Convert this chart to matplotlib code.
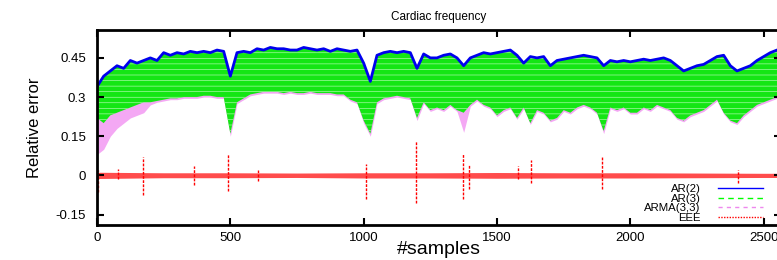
import matplotlib
matplotlib.use('Agg')
import matplotlib.pyplot as plt
from matplotlib.lines import Line2D

plt.rcParams['font.family'] = ['Liberation Sans', 'DejaVu Sans']
plt.rcParams['hatch.linewidth'] = 0.4
plt.rcParams['hatch.color'] = '#c8ffc8'

# posiciones de muestra (cada 25 muestras)
samples = list(range(0, 2551, 25))

# envolvente superior (AR(2), azul)
ar2_top = [
    0.34, 0.38, 0.40, 0.42, 0.41, 0.44, 0.43, 0.44, 0.45, 0.44,
    0.47, 0.46, 0.47, 0.465, 0.475, 0.47, 0.475, 0.47, 0.48, 0.475,
    0.38, 0.47, 0.475, 0.47, 0.485, 0.48, 0.49, 0.485, 0.485, 0.48,
    0.48, 0.49, 0.485, 0.48, 0.485, 0.475, 0.485, 0.48, 0.475, 0.48,
    0.43, 0.36, 0.46, 0.47, 0.475, 0.47, 0.475, 0.47, 0.41, 0.465,
    0.45, 0.45, 0.46, 0.465, 0.45, 0.42, 0.45, 0.46, 0.47, 0.465,
    0.47, 0.475, 0.48, 0.46, 0.43, 0.455, 0.45, 0.455, 0.42, 0.44,
    0.445, 0.45, 0.455, 0.46, 0.455, 0.45, 0.42, 0.44, 0.435, 0.44,
    0.435, 0.44, 0.445, 0.44, 0.445, 0.45, 0.44, 0.42, 0.40, 0.41,
    0.42, 0.425, 0.44, 0.455, 0.46, 0.42, 0.40, 0.41, 0.42, 0.44,
    0.455, 0.47, 0.48,
]

# envolvente inferior AR(3) (verde)
ar3_low = [
    0.22, 0.20, 0.23, 0.24, 0.25, 0.26, 0.27, 0.28, 0.28, 0.285,
    0.29, 0.295, 0.295, 0.30, 0.30, 0.30, 0.305, 0.305, 0.30, 0.30,
    0.16, 0.28, 0.295, 0.31, 0.315, 0.32, 0.32, 0.32, 0.315, 0.32,
    0.315, 0.315, 0.32, 0.315, 0.315, 0.315, 0.31, 0.31, 0.29, 0.28,
    0.21, 0.16, 0.28, 0.295, 0.30, 0.305, 0.30, 0.295, 0.22, 0.28,
    0.25, 0.26, 0.25, 0.27, 0.25, 0.24, 0.27, 0.29, 0.27, 0.26,
    0.23, 0.25, 0.26, 0.22, 0.26, 0.20, 0.25, 0.24, 0.21, 0.22,
    0.25, 0.24, 0.26, 0.27, 0.26, 0.24, 0.17, 0.26, 0.25, 0.26,
    0.24, 0.24, 0.26, 0.25, 0.27, 0.26, 0.25, 0.22, 0.21, 0.23,
    0.24, 0.25, 0.27, 0.29, 0.24, 0.21, 0.20, 0.23, 0.25, 0.27,
    0.28, 0.29, 0.30,
]

# envolvente inferior ARMA(3,3) (violeta)
arma_low = [
    0.08, 0.10, 0.15, 0.18, 0.20, 0.22, 0.23, 0.24, 0.27, 0.28,
    0.285, 0.29, 0.29, 0.295, 0.295, 0.295, 0.30, 0.30, 0.295, 0.295,
    0.15, 0.275, 0.29, 0.305, 0.31, 0.315, 0.315, 0.315, 0.31, 0.315,
    0.31, 0.31, 0.315, 0.31, 0.31, 0.31, 0.305, 0.305, 0.285, 0.275,
    0.20, 0.15, 0.275, 0.29, 0.295, 0.30, 0.295, 0.29, 0.21, 0.275,
    0.245, 0.255, 0.245, 0.265, 0.245, 0.165, 0.265, 0.285, 0.265, 0.255,
    0.225, 0.245, 0.255, 0.215, 0.255, 0.195, 0.245, 0.235, 0.205, 0.215,
    0.245, 0.235, 0.255, 0.265, 0.255, 0.235, 0.16, 0.255, 0.245, 0.255,
    0.235, 0.235, 0.255, 0.245, 0.265, 0.255, 0.245, 0.215, 0.205, 0.225,
    0.235, 0.245, 0.265, 0.285, 0.235, 0.205, 0.195, 0.225, 0.245, 0.265,
    0.275, 0.285, 0.295,
]

# EEE: banda de ruido y picos
eee_samples = list(range(0, 2751, 250))
eee_hi = [0.012, 0.010, 0.010, 0.009, 0.010, 0.010, 0.011, 0.010, 0.010, 0.009, 0.008, 0.008]
eee_lo = [-0.012, -0.009, -0.009, -0.008, -0.010, -0.010, -0.011, -0.010, -0.010, -0.009, -0.008, -0.008]
spike_x = [5, 78, 174, 363, 491, 603, 1007, 1198, 1371, 1395, 1579, 1629, 1895, 2404]
spike_hi = [0.02, 0.025, 0.07, 0.035, 0.08, 0.02, 0.042, 0.13, 0.08, 0.045, 0.035, 0.058, 0.07, 0.02]
spike_lo = [-0.064, -0.015, -0.077, -0.038, -0.058, -0.02, -0.09, -0.107, -0.09, -0.051, -0.015, -0.03, -0.051, -0.03]

xticks = [0, 500, 1000, 1500, 2000, 2500]
yticks = [-0.15, 0, 0.15, 0.3, 0.45]
ytick_labels = ['-0.15', '0', '0.15', '0.3', '0.45']

fig = plt.figure(figsize=(7.77, 2.6), dpi=100)
ax = fig.add_axes([97 / 777, 35 / 260, 684 / 777, 195.5 / 260])

ax.fill_between(samples, arma_low, ar2_top, color='#f4a8f4', lw=0)
ax.fill_between(samples, ar3_low, ar2_top, facecolor='#14e614', lw=0,
                hatch='---')
ax.plot(samples, ar2_top, color='#0000ee', lw=2)

ax.fill_between(eee_samples, eee_lo, eee_hi, color='#ff0000', alpha=0.7, lw=0)
ax.vlines(spike_x, spike_lo, spike_hi, color='#ff0000', lw=1, linestyles=(0, (2, 1)))

handles = [
    Line2D([], [], color='#0000ff', lw=1),
    Line2D([], [], color='#00ff00', lw=1, ls=(0, (4, 3))),
    Line2D([], [], color='#ee88ee', lw=1, ls=(0, (3, 3))),
    Line2D([], [], color='#ff0000', lw=1, ls=(0, (1, 1))),
]
ax.legend(handles, ['AR(2)', 'AR(3)', 'ARMA(3,3)', 'EEE'], loc='lower right',
          bbox_to_anchor=(0.974, 0.012), frameon=False, markerfirst=False,
          fontsize=8.2, labelspacing=-0.05, handlelength=4.0, handletextpad=1.5,
          borderaxespad=0, borderpad=0)

ax.set_xlim(0, 2565)
ax.set_ylim(-0.19, 0.5587)
ax.set_xticks(xticks)
ax.set_yticks(yticks)
ax.set_yticklabels(ytick_labels)
ax.tick_params(direction='in', length=5, width=1.5, top=True, right=True,
               labelsize=9.5)
ax.tick_params(axis='y', pad=8)
ax.tick_params(axis='x', pad=5)
for sp in ax.spines.values():
    sp.set_linewidth(2)

ax.set_title('Cardiac frequency', fontsize=8.5, pad=7)
ax.set_xlabel('#samples', fontsize=14, labelpad=-2)
ax.set_ylabel('Relative error', fontsize=12, labelpad=10)

fig.savefig('out.png', dpi=100)
